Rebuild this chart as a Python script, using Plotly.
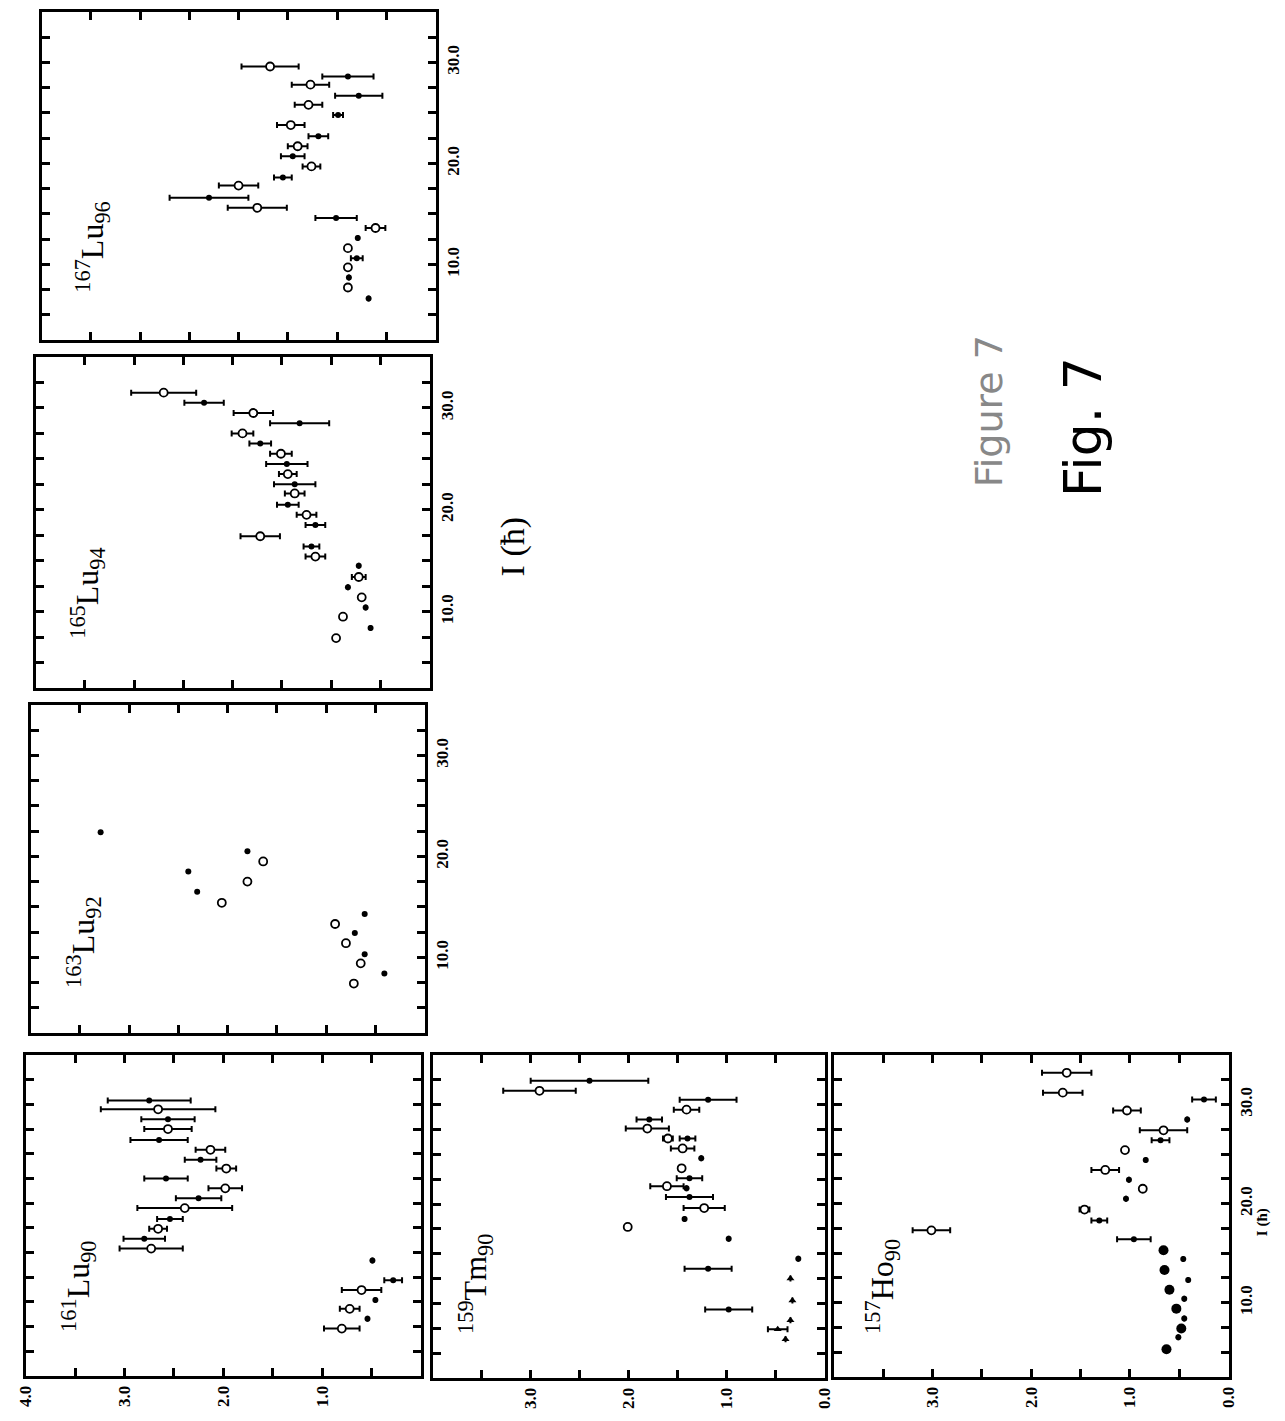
import plotly.graph_objects as go

W, H = 1285, 1421

# ---------------- data (value vs spin I) ----------------
# 167Lu96
lu167_open_I = [29.6, 27.8, 25.8, 23.8, 21.7, 19.7, 17.8, 15.6, 13.6, 11.6, 9.7, 7.7]
lu167_open_v = [1.68, 1.27, 1.29, 1.47, 1.40, 1.26, 2.00, 1.81, 0.61, 0.89, 0.89, 0.89]
lu167_open_e = [0.29, 0.19, 0.14, 0.14, 0.10, 0.09, 0.20, 0.30, 0.10, None, None, None]
lu167_fill_I = [28.6, 26.7, 24.8, 22.7, 20.7, 18.6, 16.6, 14.6, 12.6, 10.6, 8.7, 6.6]
lu167_fill_v = [0.89, 0.78, 0.99, 1.19, 1.45, 1.55, 2.30, 1.01, 0.79, 0.80, 0.88, 0.68]
lu167_fill_e = [0.26, 0.24, 0.05, 0.10, 0.12, 0.09, 0.40, 0.21, None, 0.06, None, None]

# 165Lu94
lu165_open_I = [31.5, 29.5, 27.5, 25.5, 23.5, 21.6, 19.5, 17.4, 15.4, 13.4, 11.4, 9.5, 7.4]
lu165_open_v = [2.70, 1.79, 1.90, 1.51, 1.44, 1.37, 1.25, 1.72, 1.16, 0.72, 0.69, 0.88, 0.95]
lu165_open_e = [0.33, 0.20, 0.11, 0.11, 0.09, 0.10, 0.10, 0.20, 0.10, 0.07, None, None, None]
lu165_fill_I = [30.5, 28.5, 26.5, 24.5, 22.5, 20.5, 18.5, 16.4, 14.5, 12.4, 10.4, 8.4]
lu165_fill_v = [2.29, 1.32, 1.72, 1.45, 1.37, 1.44, 1.16, 1.20, 0.72, 0.83, 0.65, 0.60]
lu165_fill_e = [0.20, 0.30, 0.11, 0.21, 0.21, 0.11, 0.10, 0.08, None, None, None, None]

# 163Lu92
lu163_open_I = [19.5, 17.5, 15.4, 13.3, 11.4, 9.4, 7.4]
lu163_open_v = [1.64, 1.80, 2.06, 0.91, 0.80, 0.65, 0.72]
lu163_open_e = [None] * 7
lu163_fill_I = [22.4, 20.5, 18.5, 16.5, 14.3, 12.4, 10.3, 8.4]
lu163_fill_v = [3.29, 1.80, 2.40, 2.31, 0.61, 0.71, 0.61, 0.41]
lu163_fill_e = [None] * 8

# 161Lu90
lu161_open_I = [29.5, 27.5, 25.4, 23.5, 21.5, 19.5, 17.4, 15.4, 11.2, 9.3, 7.3]
lu161_open_v = [2.66, 2.56, 2.13, 1.97, 1.98, 2.39, 2.66, 2.73, 0.60, 0.72, 0.80]
lu161_open_e = [0.58, 0.24, 0.15, 0.10, 0.17, 0.48, 0.09, 0.32, 0.20, 0.10, 0.18]
lu161_fill_I = [30.4, 28.5, 26.4, 24.4, 22.5, 20.5, 18.4, 16.4, 14.2, 12.2, 10.2, 8.3]
lu161_fill_v = [2.75, 2.56, 2.65, 2.23, 2.58, 2.25, 2.54, 2.80, 0.49, 0.28, 0.46, 0.54]
lu161_fill_e = [0.42, 0.27, 0.29, 0.16, 0.22, 0.23, 0.13, 0.21, None, 0.09, None, None]

# 159Tm90
tm159_open_I = [31.4, 29.5, 27.6, 26.6, 25.6, 23.6, 21.8, 19.6, 17.7]
tm159_open_v = [2.91, 1.41, 1.81, 1.60, 1.45, 1.46, 1.61, 1.23, 2.01]
tm159_open_e = [0.37, 0.13, 0.22, 0.05, 0.12, None, 0.17, 0.21, None]
tm159_fill_I = [32.4, 30.5, 28.5, 26.6, 24.6, 22.6, 21.6, 20.7, 18.5, 16.5, 14.5, 13.5, 9.4]
tm159_fill_v = [2.40, 1.19, 1.79, 1.40, 1.26, 1.38, 1.41, 1.38, 1.43, 0.98, 0.27, 1.19, 0.98]
tm159_fill_e = [0.60, 0.29, 0.13, 0.08, None, 0.13, None, 0.24, None, None, None, 0.24, 0.24]
tm159_tri_I = [12.5, 10.3, 8.3, 7.4, 6.4]
tm159_tri_v = [0.35, 0.33, 0.35, 0.48, 0.40]
tm159_tri_e = [None, None, None, 0.10, None]

# 157Ho90
ho157_open_I = [33.2, 31.2, 29.4, 27.4, 25.4, 23.4, 21.5, 19.4, 17.3]
ho157_open_v = [1.64, 1.68, 1.03, 0.66, 1.05, 1.25, 0.87, 1.46, 3.01]
ho157_open_e = [0.25, 0.20, 0.14, 0.24, None, 0.14, None, 0.05, 0.19]
ho157_fill_I = [30.5, 28.5, 26.4, 24.4, 22.4, 20.5, 18.3, 16.4, 14.4, 12.3, 10.4, 8.4, 6.5]
ho157_fill_v = [0.25, 0.42, 0.69, 0.84, 1.01, 1.04, 1.31, 0.96, 0.46, 0.41, 0.45, 0.45, 0.51]
ho157_fill_e = [0.12, None, 0.09, None, None, None, 0.08, 0.17, None, None, None, None, None]
ho157_big_I = [15.3, 13.3, 11.3, 9.4, 7.4, 5.3]
ho157_big_v = [0.66, 0.65, 0.60, 0.53, 0.48, 0.63]

# axis ticks
v_minor_ticks = [0.5, 1.0, 1.5, 2.0, 2.5, 3.0, 3.5]
I_minor_ticks = [5, 7.5, 10, 12.5, 15, 17.5, 20, 22.5, 25, 27.5, 30, 32.5]
I_label_vals = [10, 20, 30]
I_label_text = ["10.0", "20.0", "30.0"]

SERIF = "Liberation Serif"

# ---------------- panels ----------------
panels = [
    dict(label="<sup>167</sup>Lu<sub>96</sub>", box=(33, 433, 12, 340), lab=(84, 247),
         vlab=None, Ilab=True,
         series=[("fill", lu167_fill_v, lu167_fill_I, lu167_fill_e),
                 ("open", lu167_open_v, lu167_open_I, lu167_open_e)]),
    dict(label="<sup>165</sup>Lu<sub>94</sub>", box=(27, 427, 357, 688), lab=(80, 593),
         vlab=None, Ilab=True,
         series=[("fill", lu165_fill_v, lu165_fill_I, lu165_fill_e),
                 ("open", lu165_open_v, lu165_open_I, lu165_open_e)]),
    dict(label="<sup>163</sup>Lu<sub>92</sub>", box=(22, 422, 705, 1033), lab=(75, 942),
         vlab=None, Ilab=True,
         series=[("fill", lu163_fill_v, lu163_fill_I, lu163_fill_e),
                 ("open", lu163_open_v, lu163_open_I, lu163_open_e)]),
    dict(label="<sup>161</sup>Lu<sub>90</sub>", box=(17, 418, 1055, 1376), lab=(70, 1286),
         vlab=[1.0, 2.0, 3.0, 4.0], Ilab=False,
         series=[("fill", lu161_fill_v, lu161_fill_I, lu161_fill_e),
                 ("open", lu161_open_v, lu161_open_I, lu161_open_e)]),
    dict(label="<sup>159</sup>Tm<sub>90</sub>", box=(430, 828, 1055, 1378), lab=(473, 1284),
         vlab=[0.0, 1.0, 2.0, 3.0], Ilab=False,
         series=[("fill", tm159_fill_v, tm159_fill_I, tm159_fill_e),
                 ("open", tm159_open_v, tm159_open_I, tm159_open_e),
                 ("tri", tm159_tri_v, tm159_tri_I, tm159_tri_e)]),
    dict(label="<sup>157</sup>Ho<sub>90</sub>", box=(837, 1238, 1055, 1377), lab=(886, 1286),
         vlab=[0.0, 1.0, 2.0, 3.0], Ilab=True,
         series=[("fill", ho157_fill_v, ho157_fill_I, ho157_fill_e),
                 ("open", ho157_open_v, ho157_open_I, ho157_open_e),
                 ("big", ho157_big_v, ho157_big_I, [None] * len(ho157_big_v))]),
]

fig = go.Figure()
annotations = []

marker_styles = {
    "fill": dict(symbol="circle", size=6, color="black", line=dict(width=0)),
    "open": dict(symbol="circle", size=8, color="white", line=dict(color="black", width=1.8)),
    "tri": dict(symbol="triangle-up", size=7, color="black", line=dict(width=0)),
    "big": dict(symbol="circle", size=10, color="black", line=dict(width=0)),
}

tick_font = dict(family=SERIF, size=17, color="black", weight="bold")
common_axis = dict(showline=True, linewidth=3, linecolor="black", mirror="allticks",
                   ticks="inside", ticklen=8, tickwidth=2.5, tickcolor="black",
                   tickangle=-90, tickfont=tick_font,
                   showgrid=False, zeroline=False, fixedrange=True)

for i, p in enumerate(panels, start=1):
    x0, x1, y0, y1 = p["box"]
    xa = "xaxis" if i == 1 else f"xaxis{i}"
    ya = "yaxis" if i == 1 else f"yaxis{i}"
    xr = "x" if i == 1 else f"x{i}"
    yr = "y" if i == 1 else f"y{i}"

    for kind, vv, II, ee in p["series"]:
        has_err = any(e is not None for e in ee)
        fig.add_trace(go.Scatter(
            x=vv, y=II, mode="markers", xaxis=xr, yaxis=yr,
            marker=marker_styles[kind],
            error_x=dict(type="data", array=ee, symmetric=True, color="black",
                         thickness=2, width=3, visible=has_err),
            showlegend=False, hoverinfo="skip",
        ))

    if p["vlab"] is not None:
        xt = dict(tickmode="array", tickvals=p["vlab"],
                  ticktext=[f"{v:.1f}" for v in p["vlab"]], showticklabels=True)
    else:
        xt = dict(tickmode="array", tickvals=[], showticklabels=False)
    if p["Ilab"]:
        yt = dict(tickmode="array", tickvals=I_label_vals, ticktext=I_label_text,
                  showticklabels=True)
    else:
        yt = dict(tickmode="array", tickvals=[], showticklabels=False)

    fig.update_layout(**{
        xa: dict(domain=[x0 / W, x1 / W], range=[4.0, 0.0], anchor=yr,
                 minor=dict(tickmode="array", tickvals=v_minor_ticks, ticks="inside",
                            ticklen=8, tickwidth=2.5, tickcolor="black"),
                 **xt, **common_axis),
        ya: dict(domain=[1 - y1 / H, 1 - y0 / H], range=[2.5, 35.0], anchor=xr,
                 side="right",
                 minor=dict(tickmode="array", tickvals=I_minor_ticks, ticks="inside",
                            ticklen=8, tickwidth=2.5, tickcolor="black"),
                 **yt, **common_axis),
    })

    lx, ly = p["lab"]
    annotations.append(dict(
        text=p["label"], x=lx / W, y=1 - ly / H, xref="paper", yref="paper",
        showarrow=False, textangle=-90, xanchor="center", yanchor="middle",
        font=dict(family=SERIF, size=32, color="black"),
    ))

# shared axis title and figure captions
annotations.append(dict(text="I (ħ)", x=512 / W, y=1 - 547 / H, xref="paper", yref="paper",
                        showarrow=False, textangle=-90, xanchor="center", yanchor="middle",
                        font=dict(family=SERIF, size=34, color="black")))
annotations.append(dict(text="I (ħ)", x=1272 / W, y=1 - 1222 / H, xref="paper", yref="paper",
                        showarrow=False, textangle=-90, xanchor="center", yanchor="middle",
                        font=dict(family=SERIF, size=15, color="black", weight="bold")))
annotations.append(dict(text="Figure 7", x=995 / W, y=1 - 411 / H, xref="paper", yref="paper",
                        showarrow=False, textangle=-90, xanchor="center", yanchor="middle",
                        font=dict(family="DejaVu Sans", size=38, color="#888888")))
annotations.append(dict(text="Fig. 7", x=1090 / W, y=1 - 427 / H, xref="paper", yref="paper",
                        showarrow=False, textangle=-90, xanchor="center", yanchor="middle",
                        font=dict(family="DejaVu Sans", size=52, color="black")))

fig.update_layout(
    width=W, height=H,
    margin=dict(l=0, r=0, t=0, b=0),
    paper_bgcolor="white", plot_bgcolor="white",
    annotations=annotations,
    showlegend=False,
)

fig.write_html("out.html")
